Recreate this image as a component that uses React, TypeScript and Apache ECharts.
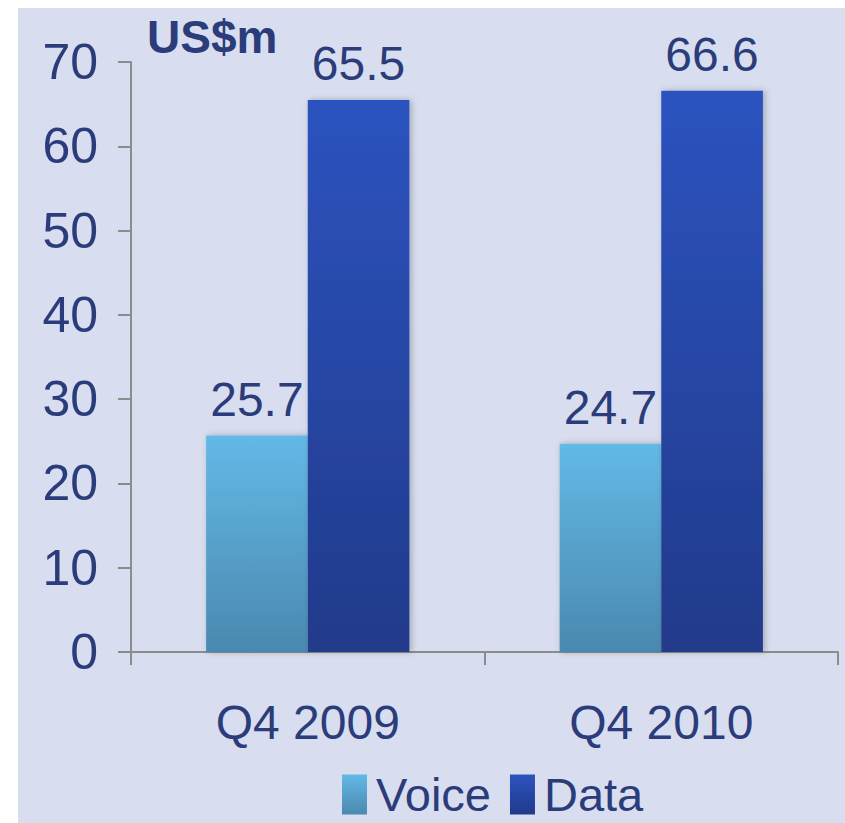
import React, { useEffect, useRef } from "react";
import * as echarts from "echarts";

const categories = ["Q4 2009", "Q4 2010"];
const voiceValues = [25.7, 24.7];
const dataValues = [65.5, 66.6];
const yTicks = [0, 10, 20, 30, 40, 50, 60, 70];
const unitLabel = "US$m";

const FONT = '"Liberation Sans", Arial, sans-serif';
const NAVY = "#2B3C7B";

export default function App() {
  const ref = useRef<HTMLDivElement>(null);
  useEffect(() => {
    if (!ref.current) return;
    const chart = echarts.init(ref.current, null, { renderer: "svg" });
    const shadow = {
      shadowBlur: 6,
      shadowColor: "rgba(0,0,0,0.25)",
      shadowOffsetX: 2,
      shadowOffsetY: 0,
    };
    const valueLabel = {
      show: true,
      position: "top",
      distance: 12,
      fontSize: 48,
      color: NAVY,
      fontFamily: FONT,
    };
    chart.setOption({
      animation: false,
      backgroundColor: "#ffffff",
      textStyle: { fontFamily: FONT },
      graphic: [
        {
          type: "rect",
          z: -10,
          silent: true,
          shape: { x: 18, y: 8, width: 845, height: 823 },
          style: { fill: "#D8DEEF" },
        },
        {
          type: "text",
          left: 147,
          top: 14,
          style: {
            text: unitLabel,
            fontSize: 46,
            fontWeight: "bold",
            fill: NAVY,
            fontFamily: FONT,
          },
        },
      ],
      legend: {
        bottom: 0,
        left: 337,
        itemWidth: 25,
        itemHeight: 40,
        itemGap: 19,
        icon: "rect",
        textStyle: { fontSize: 47, color: NAVY, fontFamily: FONT, padding: [0, 0, 0, 4] },
        data: ["Voice", "Data"],
      },
      grid: { left: 131, right: 7, top: 62, bottom: 171 },
      xAxis: {
        type: "category",
        data: categories,
        axisLine: { show: true, lineStyle: { color: "#8C8C8C", width: 2 } },
        axisTick: { show: true, length: 13, lineStyle: { color: "#8C8C8C", width: 2 } },
        axisLabel: { fontSize: 48, color: NAVY, margin: 46, fontFamily: FONT },
      },
      yAxis: {
        type: "value",
        min: yTicks[0],
        max: yTicks[yTicks.length - 1],
        interval: 10,
        splitLine: { show: false },
        axisLine: { show: true, lineStyle: { color: "#8C8C8C", width: 2 } },
        axisTick: { show: true, length: 13, lineStyle: { color: "#8C8C8C", width: 2 } },
        axisLabel: { fontSize: 50, color: NAVY, margin: 33, fontFamily: FONT },
      },
      series: [
        {
          name: "Voice",
          type: "bar",
          data: voiceValues,
          barGap: "0%",
          barCategoryGap: "42.5%",
          itemStyle: {
            color: new echarts.graphic.LinearGradient(0, 0, 0, 1, [
              { offset: 0, color: "#63B9E7" },
              { offset: 1, color: "#4A89AF" },
            ]),
            ...shadow,
          },
          label: valueLabel,
        },
        {
          name: "Data",
          type: "bar",
          data: dataValues,
          itemStyle: {
            color: new echarts.graphic.LinearGradient(0, 0, 0, 1, [
              { offset: 0, color: "#2C53BF" },
              { offset: 1, color: "#213A8A" },
            ]),
            ...shadow,
          },
          label: valueLabel,
        },
      ],
    });
    return () => chart.dispose();
  }, []);
  return (
    <div
      ref={ref}
      style={{ position: "fixed", left: 0, top: 0, width: 845, height: 823 }}
    />
  );
}
